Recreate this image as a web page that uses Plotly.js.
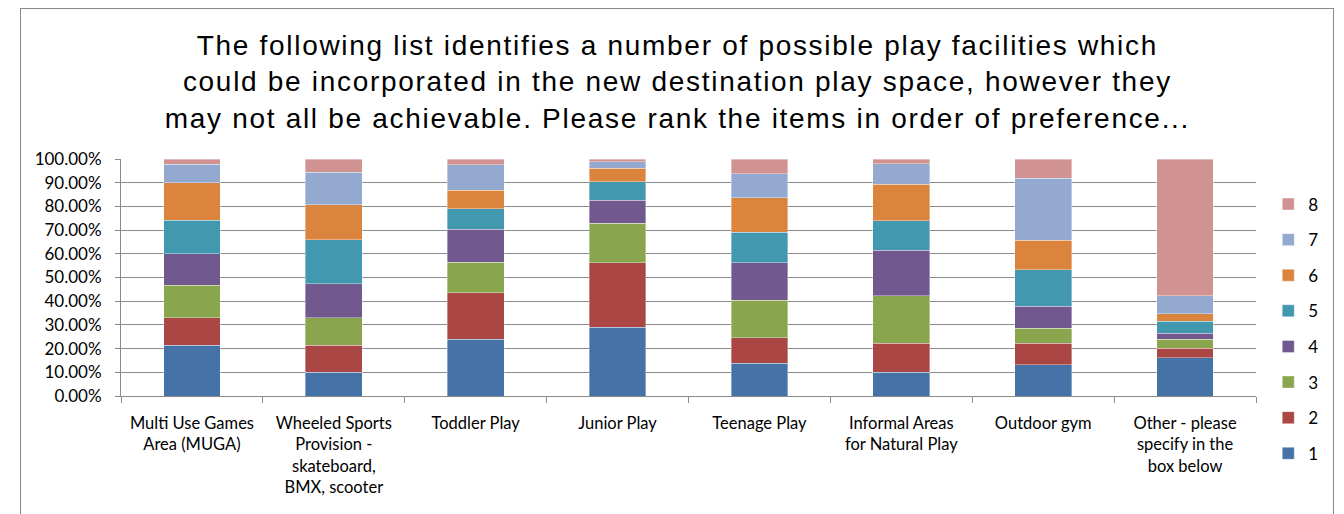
<!DOCTYPE html>
<html>
<head>
<meta charset="utf-8">
<script src="https://cdn.plot.ly/plotly-3.0.1.min.js"></script>
<style>
  html, body { margin: 0; padding: 0; width: 1344px; height: 514px; overflow: hidden; background: #ffffff; }
  #frame { position: absolute; left: 20px; top: 8px; width: 1314px; height: 700px; border: 1px solid #8a8a8a; box-sizing: border-box; }
  #chart { position: absolute; left: 0; top: 0; width: 1344px; height: 514px; }
  #chart .gtitle { letter-spacing: 1.7px; }
</style>
</head>
<body>
<div id="frame"></div>
<div id="chart"></div>
<script>
const categories = [
  "Multi Use Games<br>Area (MUGA)",
  "Wheeled Sports<br>Provision -<br>skateboard,<br>BMX, scooter",
  "Toddler Play",
  "Junior Play",
  "Teenage Play",
  "Informal Areas<br>for Natural Play",
  "Outdoor gym",
  "Other - please<br>specify in the<br>box below"
];

const seriesNames = ["1", "2", "3", "4", "5", "6", "7", "8"];

const rank1 = [21.5, 10.1, 23.9, 29.1, 13.8, 10.1, 13.2, 16.2];
const rank2 = [11.5, 11.4, 19.7, 27.1, 10.8, 12.1, 9.0, 3.9];
const rank3 = [13.8, 11.5, 12.8, 16.7, 15.9, 20.2, 6.3, 3.8];
const rank4 = [13.2, 14.4, 13.9, 9.8, 15.7, 19.0, 9.4, 2.5];
const rank5 = [14.2, 18.6, 8.8, 7.7, 12.8, 12.6, 15.3, 5.1];
const rank6 = [15.8, 14.6, 7.7, 5.8, 14.6, 15.4, 12.6, 3.2];
const rank7 = [7.7, 13.9, 10.8, 2.7, 10.1, 8.6, 26.0, 7.6];
const rank8 = [2.3, 5.5, 2.4, 1.1, 6.3, 2.0, 8.2, 57.7];

const seriesValues = [rank1, rank2, rank3, rank4, rank5, rank6, rank7, rank8];
const seriesColors = ["#4572A7", "#AA4643", "#89A54E", "#71588F", "#4198AF", "#DB843D", "#93A9CF", "#D19392"];

const yTickVals = [0, 10, 20, 30, 40, 50, 60, 70, 80, 90, 100];
const yTickText = ["0.00%", "10.00%", "20.00%", "30.00%", "40.00%", "50.00%", "60.00%", "70.00%", "80.00%", "90.00%", "100.00%"];

const titleText = "The following list identifies a number of possible play facilities which<br>could be incorporated in the new destination play space, however they<br>may not all be achievable. Please rank the items in order of preference...";

const labelFont = "Lato, 'Open Sans', sans-serif";

const traces = seriesNames.map((name, i) => ({
  type: "bar",
  name: name,
  x: categories,
  y: seriesValues[i],
  legendgroup: "g" + name,
  legendrank: 100 - i,
  marker: { color: seriesColors[i], line: { color: "rgba(255,255,255,0.45)", width: 0.8 } },
  hoverinfo: "x+y+name"
}));

const layout = {
  width: 1344,
  height: 514,
  paper_bgcolor: "rgba(0,0,0,0)",
  plot_bgcolor: "#ffffff",
  barmode: "stack",
  bargap: 0.6,
  margin: { l: 121, r: 88, t: 159, b: 118, pad: 0 },
  title: {
    text: titleText,
    font: { family: "'Liberation Sans', Arial, sans-serif", size: 28, color: "#000000" },
    x: 0.504,
    xanchor: "center",
    y: 0.893,
    yanchor: "top"
  },
  xaxis: {
    type: "category",
    showline: true,
    linecolor: "#8a8a8a",
    linewidth: 1,
    ticks: "outside",
    tickson: "boundaries",
    ticklen: 6,
    tickcolor: "#8a8a8a",
    showgrid: false,
    tickfont: { family: labelFont, size: 16.5, color: "#000000" },
    ticklabelstandoff: 12,
    tickangle: 0
  },
  yaxis: {
    range: [0, 100],
    tickvals: yTickVals,
    ticktext: yTickText,
    showline: true,
    linecolor: "#8a8a8a",
    linewidth: 1,
    ticks: "outside",
    ticklen: 5,
    tickcolor: "#8a8a8a",
    showgrid: true,
    gridcolor: "#8a8a8a",
    gridwidth: 1,
    zeroline: false,
    tickfont: { family: labelFont, size: 17, color: "#000000" },
    ticklabelstandoff: 10
  },
  legend: {
    x: 1.0108,
    xanchor: "left",
    y: 0.884,
    yanchor: "top",
    maxheight: 400,
    traceorder: "grouped",
    tracegroupgap: 10.5,
    font: { family: labelFont, size: 17, color: "#000000" },
    bgcolor: "rgba(0,0,0,0)"
  },
  showlegend: true
};

Plotly.newPlot("chart", traces, layout, { displayModeBar: false, staticPlot: true });
</script>
</body>
</html>
